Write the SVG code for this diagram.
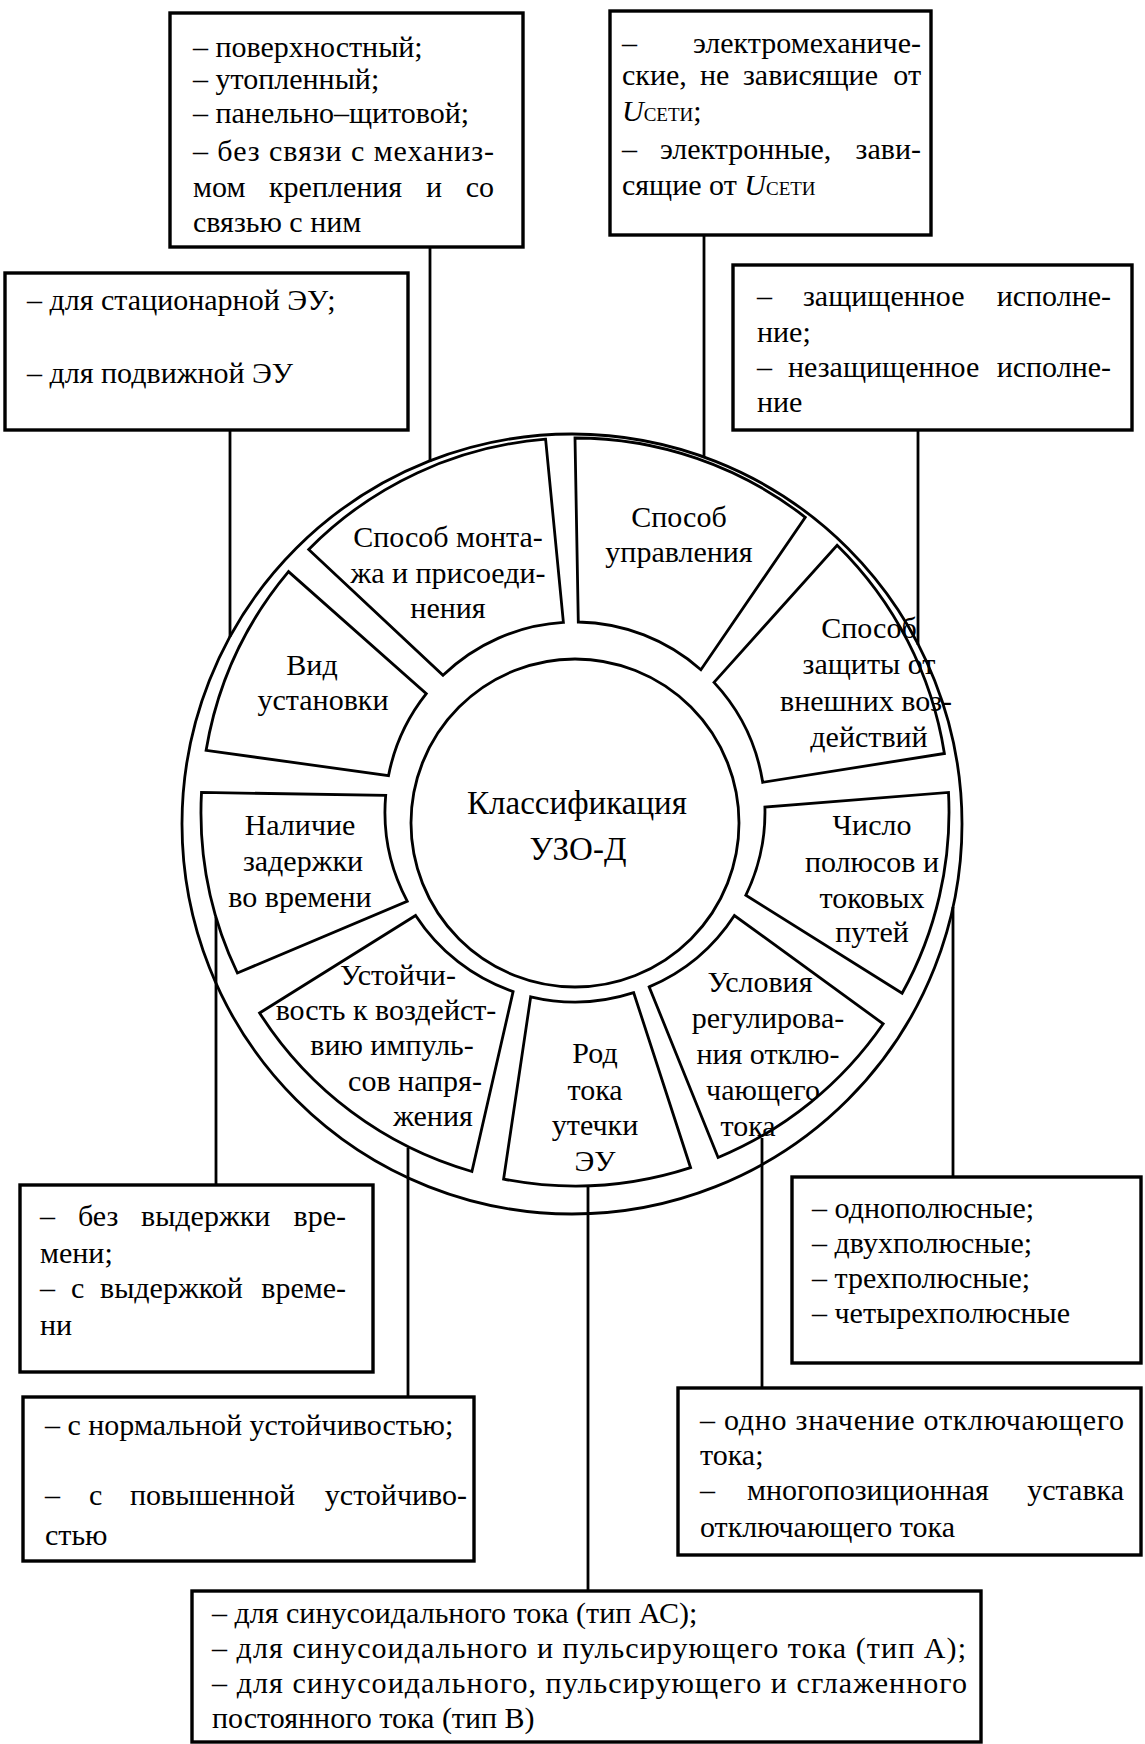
<svg xmlns="http://www.w3.org/2000/svg" width="1145" height="1744" viewBox="0 0 1145 1744">
<style>
text{font-family:"Liberation Serif","Times New Roman",serif;fill:#000}
.b{font-size:30px}
.s{font-size:30px;text-anchor:middle}
.e{text-anchor:end}
.box{fill:#fff;stroke:#000;stroke-width:3.4}
.seg{fill:#fff;stroke:#000;stroke-width:2.8;stroke-linejoin:miter}
.ring{fill:#fff;stroke:#000;stroke-width:2.8}
.con line{stroke:#000;stroke-width:2.8}
.sub{font-size:19px}
.it{font-style:italic}
</style>
<rect width="1145" height="1744" fill="#fff"/>

<g id="wheel">
<circle class="ring" cx="572" cy="824" r="390"/>
</g>

<g id="connectors" class="con">
<line x1="430" y1="247" x2="430" y2="462"/>
<line x1="704" y1="235" x2="704" y2="458"/>
<line x1="230" y1="430" x2="230" y2="637"/>
<line x1="918" y1="430" x2="918" y2="645"/>
<line x1="216" y1="917" x2="216" y2="1185"/>
<line x1="408" y1="1148" x2="408" y2="1397"/>
<line x1="953" y1="907" x2="953" y2="1177"/>
<line x1="762" y1="1138" x2="762" y2="1388"/>
<line x1="588" y1="1186" x2="588" y2="1591"/>
</g>

<g id="seg-montazh">
<path class="seg" d="M308.7,549.4 A374,374 0 0 1 545.6,439.2 L563.4,622.4 A190,190 0 0 0 443,675.3 Z"/>
<text class="s" x="448" y="547">Способ монта-</text>
<text class="s" x="448" y="583">жа и присоеди-</text>
<text class="s" x="448" y="618">нения</text>
</g>
<g id="seg-upravlenie">
<path class="seg" d="M575,438 A374,374 0 0 1 805.3,517.3 L700.9,669.7 A190,190 0 0 0 578.3,622 Z"/>
<text class="s" x="679" y="527">Способ</text>
<text class="s" x="679" y="562">управления</text>
</g>
<g id="seg-zashchita">
<path class="seg" d="M837.1,545.2 A374,374 0 0 1 944.4,753.5 L762.7,782.3 A190,190 0 0 0 714,682.4 Z"/>
<text class="s" x="869" y="638">Способ</text>
<text class="s" x="869" y="674">защиты от</text>
<text class="s" x="866" y="711">внешних воз-</text>
<text class="s" x="869" y="747">действий</text>
</g>
<g id="seg-polyusy">
<path class="seg" d="M948.5,792.4 A374,374 0 0 1 902.1,993.3 L745.8,895.3 A190,190 0 0 0 764.9,807 Z"/>
<text class="s" x="872" y="835">Число</text>
<text class="s" x="872" y="872">полюсов и</text>
<text class="s" x="872" y="908">токовых</text>
<text class="s" x="872" y="942">путей</text>
</g>
<g id="seg-regulirovanie">
<path class="seg" d="M883.2,1023.8 A374,374 0 0 1 718.1,1157.5 L649.2,986.9 A190,190 0 0 0 734.4,915.5 Z"/>
<text class="s" x="760" y="992">Условия</text>
<text class="s" x="768" y="1028">регулирова-</text>
<text class="s" x="768" y="1064">ния отклю-</text>
<text class="s" x="763" y="1100">чающего</text>
<text class="s" x="748" y="1136">тока</text>
</g>
<g id="seg-rod">
<path class="seg" d="M690.6,1167.7 A374,374 0 0 1 503.6,1179.1 L530.7,996.8 A190,190 0 0 0 633.7,992.7 Z"/>
<text class="s" x="595" y="1063">Род</text>
<text class="s" x="595" y="1100">тока</text>
<text class="s" x="595" y="1135">утечки</text>
<text class="s" x="595" y="1171">ЭУ</text>
</g>
<g id="seg-ustoichivost">
<path class="seg" d="M471.9,1171.5 A374,374 0 0 1 259.6,1013 L415.6,915.5 A190,190 0 0 0 513.1,991.6 Z"/>
<text class="s" x="398" y="985">Устойчи-</text>
<text class="s" x="386" y="1020">вость к воздейст-</text>
<text class="s" x="392" y="1055">вию импуль-</text>
<text class="s" x="415" y="1091">сов напря-</text>
<text class="s" x="433" y="1126">жения</text>
</g>
<g id="seg-zaderzhka">
<path class="seg" d="M237.4,973 A374,374 0 0 1 201.5,792.4 L385.7,795.4 A190,190 0 0 0 407.2,901.2 Z"/>
<text class="s" x="300" y="835">Наличие</text>
<text class="s" x="303" y="871">задержки</text>
<text class="s" x="300" y="907">во времени</text>
</g>
<g id="seg-vid">
<path class="seg" d="M206.1,750.3 A374,374 0 0 1 288.5,571.6 L426.3,693.7 A190,190 0 0 0 388.5,775.7 Z"/>
<text class="s" x="312" y="675">Вид</text>
<text class="s" x="323" y="710">установки</text>
</g>
<g id="center">
<circle class="ring" cx="575" cy="823" r="164"/>
<text class="s" x="577" y="814" style="font-size:33px">Классификация</text>
<text class="s" x="578" y="860" style="font-size:33px">УЗО-Д</text>
</g>

<g id="box-montazh">
<rect class="box" x="170" y="13" width="353" height="234"/>
<text class="b" x="193" y="57">– поверхностный;</text>
<text class="b" x="193" y="89">– утопленный;</text>
<text class="b" x="193" y="123">– панельно–щитовой;</text>
<text class="b" x="193" y="161" textLength="301" lengthAdjust="spacing">– без связи с механиз-</text>
<text class="b" y="197"><tspan x="193">мом</tspan><tspan x="269">крепления</tspan><tspan x="426">и</tspan><tspan x="494" class="e">со</tspan></text>
<text class="b" x="193" y="232">связью с ним</text>
</g>

<g id="box-upravlenie">
<rect class="box" x="610" y="11" width="321" height="224"/>
<text class="b" y="53"><tspan x="622">–</tspan><tspan x="921" class="e">электромеханиче-</tspan></text>
<text class="b" y="85"><tspan x="622">ские,</tspan><tspan x="700">не</tspan><tspan x="743">зависящие</tspan><tspan x="921" class="e">от</tspan></text>
<text class="b" x="622" y="121"><tspan class="it">U</tspan><tspan class="sub">СЕТИ</tspan>;</text>
<text class="b" y="159"><tspan x="622">–</tspan><tspan x="660">электронные,</tspan><tspan x="921" class="e">зави-</tspan></text>
<text class="b" x="622" y="195">сящие от <tspan class="it">U</tspan><tspan class="sub">СЕТИ</tspan></text>
</g>

<g id="box-vid">
<rect class="box" x="5" y="273" width="403" height="157"/>
<text class="b" x="27" y="310">– для стационарной ЭУ;</text>
<text class="b" x="27" y="383">– для подвижной ЭУ</text>
</g>

<g id="box-zashchita">
<rect class="box" x="733" y="265" width="399" height="165"/>
<text class="b" y="306"><tspan x="757">–</tspan><tspan x="803">защищенное</tspan><tspan x="1111" class="e">исполне-</tspan></text>
<text class="b" x="757" y="342">ние;</text>
<text class="b" y="377"><tspan x="757">–</tspan><tspan x="788">незащищенное</tspan><tspan x="1111" class="e">исполне-</tspan></text>
<text class="b" x="757" y="412">ние</text>
</g>

<g id="box-zaderzhka">
<rect class="box" x="20" y="1185" width="353" height="187"/>
<text class="b" y="1226"><tspan x="40">–</tspan><tspan x="78">без</tspan><tspan x="141">выдержки</tspan><tspan x="346" class="e">вре-</tspan></text>
<text class="b" x="40" y="1263">мени;</text>
<text class="b" y="1298"><tspan x="40">–</tspan><tspan x="71">с</tspan><tspan x="100">выдержкой</tspan><tspan x="346" class="e">време-</tspan></text>
<text class="b" x="40" y="1335">ни</text>
</g>

<g id="box-ustoichivost">
<rect class="box" x="23" y="1397" width="451" height="164"/>
<text class="b" x="45" y="1435">– с нормальной устойчивостью;</text>
<text class="b" y="1505"><tspan x="45">–</tspan><tspan x="89">с</tspan><tspan x="130">повышенной</tspan><tspan x="467" class="e">устойчиво-</tspan></text>
<text class="b" x="45" y="1545">стью</text>
</g>

<g id="box-polyusy">
<rect class="box" x="792" y="1177" width="349" height="186"/>
<text class="b" x="812" y="1218">– однополюсные;</text>
<text class="b" x="812" y="1253">– двухполюсные;</text>
<text class="b" x="812" y="1288">– трехполюсные;</text>
<text class="b" x="812" y="1323">– четырехполюсные</text>
</g>

<g id="box-regulirovanie">
<rect class="box" x="678" y="1388" width="463" height="167"/>
<text class="b" x="700" y="1430" textLength="424" lengthAdjust="spacing">– одно значение отключающего</text>
<text class="b" x="700" y="1465">тока;</text>
<text class="b" y="1500"><tspan x="700">–</tspan><tspan x="747">многопозиционная</tspan><tspan x="1124" class="e">уставка</tspan></text>
<text class="b" x="700" y="1537">отключающего тока</text>
</g>

<g id="box-rod">
<rect class="box" x="192" y="1591" width="789" height="151"/>
<text class="b" x="212" y="1623">– для синусоидального тока (тип АС);</text>
<text class="b" x="212" y="1658" textLength="754" lengthAdjust="spacing">– для синусоидального и пульсирующего тока (тип А);</text>
<text class="b" x="212" y="1693" textLength="755" lengthAdjust="spacing">– для синусоидального, пульсирующего и сглаженного</text>
<text class="b" x="212" y="1728">постоянного тока (тип В)</text>
</g>
</svg>
